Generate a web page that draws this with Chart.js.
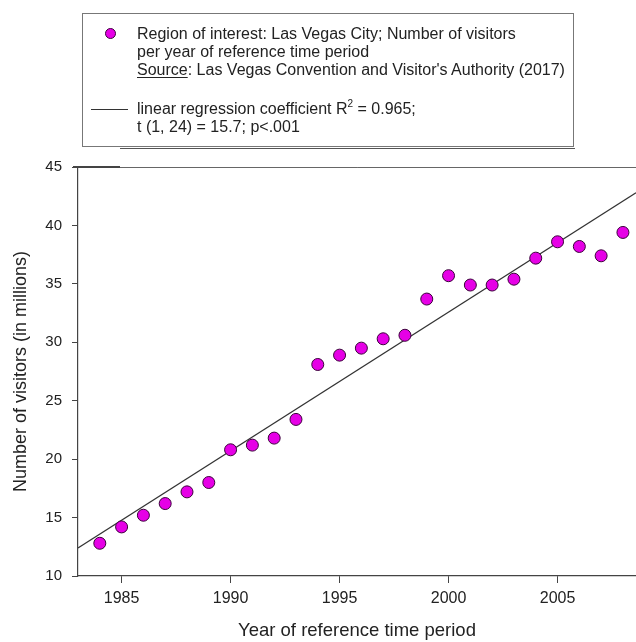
<!DOCTYPE html>
<html>
<head>
<meta charset="utf-8">
<script src="https://cdn.jsdelivr.net/npm/chart.js@4/dist/chart.umd.min.js"></script>
<style>
  html, body { margin: 0; padding: 0; background: #fff; }
  #wrap { position: relative; width: 636px; height: 642px; overflow: hidden; }
  #chart { position: absolute; left: 0; top: 0; }
  #legend {
    position: absolute; left: 82px; top: 13px; width: 490px; height: 132px;
    border: 1.5px solid #777;
    font-family: "Liberation Sans", Arial, sans-serif; font-size: 16px; color: #222;
  }
  #legend::after {
    content: ""; position: absolute; left: 37px; right: -1.5px; bottom: -3px;
    height: 1.5px; background: #555;
  }
  #legend .row { position: absolute; left: 54px; line-height: 18px; white-space: nowrap; }
  #legend .dot {
    position: absolute; left: 22px; top: 14px; width: 9px; height: 9px; border-radius: 50%;
    background: #e600e6; border: 1px solid #3a003a;
  }
  #legend .lin { position: absolute; left: 8px; top: 95px; width: 37px; border-top: 1.2px solid #333; }
  #legend sup { font-size: 10px; vertical-align: 7px; line-height: 0; }
  #legend u { text-decoration-thickness: 1px; text-underline-offset: 2px; }
  #corner { position: absolute; left: 73px; top: 166px; width: 47px; height: 2px; background: #444; }
</style>
</head>
<body>
<div id="wrap">
  <canvas id="chart" width="636" height="642"></canvas>
  <div id="corner"></div>
  <div id="legend">
    <span class="dot"></span>
    <div class="row" style="top:11px">Region of interest: Las Vegas City; Number of visitors<br>per year of reference time period<br><u>Source</u>: Las Vegas Convention and Visitor's Authority (2017)</div>
    <span class="lin"></span>
    <div class="row" style="top:86px">linear regression coefficient R<sup>2</sup> = 0.965;<br>t (1, 24) = 15.7; p&lt;.001</div>
  </div>
</div>
<script>
// visitors per year (millions)
const years = [1984, 1985, 1986, 1987, 1988, 1989, 1990, 1991, 1992, 1993, 1994, 1995,
  1996, 1997, 1998, 1999, 2000, 2001, 2002, 2003, 2004, 2005, 2006, 2007, 2008];
const visitors = [12.8, 14.2, 15.2, 16.2, 17.2, 18.0, 20.8, 21.2, 21.8, 23.4, 28.1, 28.9,
  29.5, 30.3, 30.6, 33.7, 35.7, 34.9, 34.9, 35.4, 37.2, 38.6, 38.2, 37.4, 39.4];

// regression line ends as drawn in the figure
const fitYears = [1983, 2008.6];
const fitValues = [12.4, 42.8];

const xTicks = [1985, 1990, 1995, 2000, 2005];
const yTicks = [10, 15, 20, 25, 30, 35, 40, 45];

const axisFont = { family: "'Liberation Sans', Arial, sans-serif" };

new Chart(document.getElementById('chart'), {
  type: 'scatter',
  data: {
    datasets: [
      {
        label: 'Region of interest: Las Vegas City',
        data: years.map((y, i) => ({ x: y, y: visitors[i] })),
        backgroundColor: '#e600e6',
        borderColor: '#3a003a',
        borderWidth: 1,
        pointRadius: 6,
        order: 1
      },
      {
        label: 'linear regression',
        type: 'line',
        data: fitYears.map((y, i) => ({ x: y, y: fitValues[i] })),
        borderColor: '#333',
        borderWidth: 1.2,
        pointRadius: 0,
        fill: false,
        order: 2
      }
    ]
  },
  options: {
    responsive: false,
    animation: false,
    layout: { autoPadding: false, padding: { top: 167, left: 0, right: 0, bottom: 0 } },
    plugins: { legend: { display: false }, tooltip: { enabled: false } },
    scales: {
      x: {
        type: 'linear',
        min: 1983,
        max: 2008.6,
        afterFit: s => { s.height = 66; },
        afterBuildTicks: s => { s.ticks = xTicks.map(v => ({ value: v })); },
        border: { color: '#444', width: 1.2 },
        grid: { drawOnChartArea: false, tickColor: '#444', tickLength: 7 },
        ticks: {
          color: '#222', padding: 6,
          font: { ...axisFont, size: 16 },
          callback: v => String(v)
        },
        title: {
          display: true, text: 'Year of reference time period', color: '#222',
          font: { ...axisFont, size: 18.5 }, padding: { top: 0, bottom: 0 }
        }
      },
      y: {
        min: 10,
        max: 45,
        afterFit: s => { s.width = 78; },
        afterBuildTicks: s => { s.ticks = yTicks.map(v => ({ value: v })); },
        border: { color: '#444', width: 1.2 },
        grid: {
          drawOnChartArea: true,
          color: c => (c.tick && c.tick.value === 45 ? '#666' : 'rgba(0,0,0,0)'),
          tickColor: '#444', tickLength: 6
        },
        ticks: { color: '#222', padding: 10, font: { ...axisFont, size: 15 } },
        title: {
          display: true, text: 'Number of visitors (in millions)', color: '#222',
          font: { ...axisFont, size: 18 }, padding: { top: 10, bottom: 0 }
        }
      }
    }
  }
});
</script>
</body>
</html>
